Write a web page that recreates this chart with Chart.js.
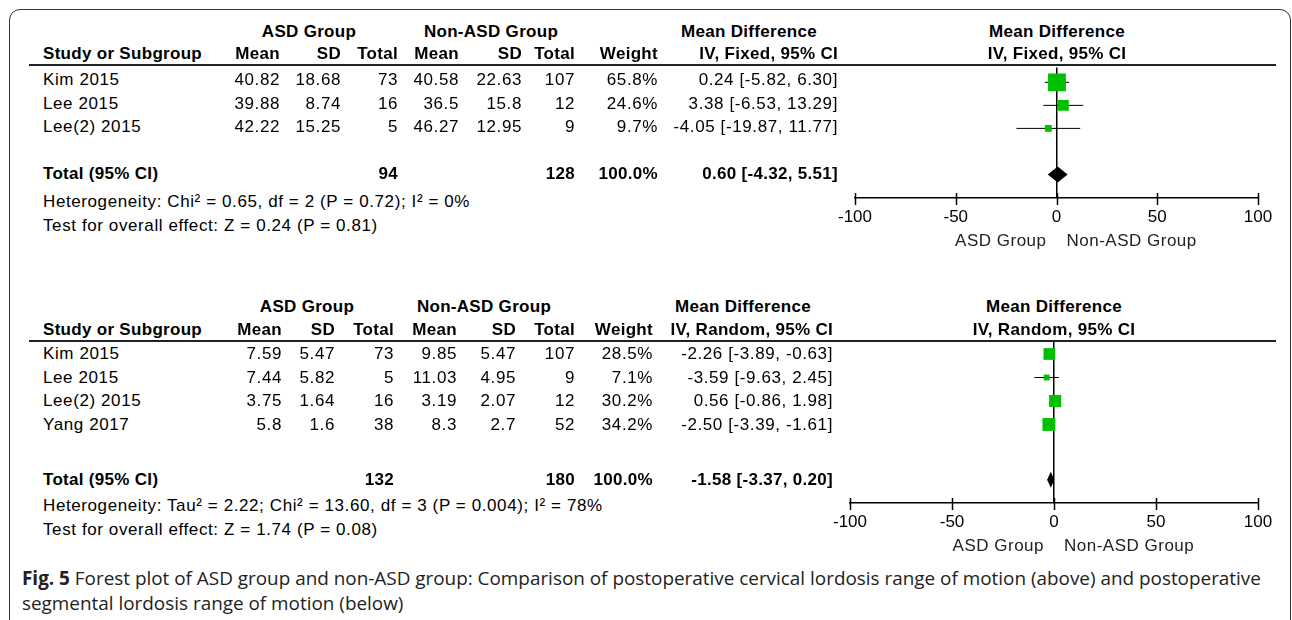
<!DOCTYPE html>
<html>
<head>
<meta charset="utf-8">
<script src="https://cdn.jsdelivr.net/npm/chart.js@4"></script>
<style>
  body { margin: 0; width: 1292px; height: 620px; overflow: hidden; background: #fff;
         font-family: "Liberation Sans", Arial, sans-serif; color: #000; position: relative; }
  .t { position: absolute; white-space: nowrap; font-size: 17px; line-height: 20px; height: 20px; letter-spacing: 0.6px; }
  .b { font-weight: bold; letter-spacing: 0.3px; }
  .frame { position: absolute; left: 9px; top: 9px; width: 1280px; height: 700px;
           border: 1.5px solid #333; border-radius: 11px; }
  .rule { position: absolute; height: 2px; background: #222; }
  canvas { position: absolute; }
  .cap { position: absolute; left: 22px; font-family: "Open Sans", sans-serif; font-size: 18.9px;
         line-height: 24px; white-space: nowrap; color: #222; }
</style>
</head>
<body>
<div class="frame"></div>
<canvas id="plot1" width="470" height="200" style="left:820px;top:55px"></canvas>
<canvas id="plot2" width="475" height="230" style="left:815px;top:331px"></canvas>
<div class="cap" style="top:566px"><b>Fig. 5</b> Forest plot of ASD group and non-ASD group: Comparison of postoperative cervical lordosis range of motion (above) and postoperative</div>
<div class="cap" style="top:591px">segmental lordosis range of motion (below)</div>

<script>
// upper plot: postoperative cervical lordosis ROM
const studies1 = ['Kim 2015', 'Lee 2015', 'Lee(2) 2015'];
const asdMean1 = [40.82, 39.88, 42.22];
const asdSD1 = [18.68, 8.74, 15.25];
const asdN1 = [73, 16, 5];
const nonMean1 = [40.58, 36.5, 46.27];
const nonSD1 = [22.63, 15.8, 12.95];
const nonN1 = [107, 12, 9];
const weight1 = [65.8, 24.6, 9.7];
const md1 = [0.24, 3.38, -4.05];
const lo1 = [-5.82, -6.53, -19.87];
const hi1 = [6.30, 13.29, 11.77];
const total1 = { asdN: 94, nonN: 128, weight: 100.0, md: 0.60, lo: -4.32, hi: 5.51 };
const het1 = 'Heterogeneity: Chi\u00b2 = 0.65, df = 2 (P = 0.72); I\u00b2 = 0%';
const test1 = 'Test for overall effect: Z = 0.24 (P = 0.81)';

// lower plot: postoperative segmental lordosis ROM
const studies2 = ['Kim 2015', 'Lee 2015', 'Lee(2) 2015', 'Yang 2017'];
const asdMean2 = [7.59, 7.44, 3.75, 5.8];
const asdSD2 = [5.47, 5.82, 1.64, 1.6];
const asdN2 = [73, 5, 16, 38];
const nonMean2 = [9.85, 11.03, 3.19, 8.3];
const nonSD2 = [5.47, 4.95, 2.07, 2.7];
const nonN2 = [107, 9, 12, 52];
const weight2 = [28.5, 7.1, 30.2, 34.2];
const md2 = [-2.26, -3.59, 0.56, -2.50];
const lo2 = [-3.89, -9.63, -0.86, -3.39];
const hi2 = [-0.63, 2.45, 1.98, -1.61];
const total2 = { asdN: 132, nonN: 180, weight: 100.0, md: -1.58, lo: -3.37, hi: 0.20 };
const het2 = 'Heterogeneity: Tau\u00b2 = 2.22; Chi\u00b2 = 13.60, df = 3 (P = 0.004); I\u00b2 = 78%';
const test2 = 'Test for overall effect: Z = 1.74 (P = 0.08)';

const xTicks = [-100, -50, 0, 50, 100];
const axisLeft = 'ASD Group';
const axisRight = 'Non-ASD Group';

function txt(x, y, s, align, bold) {
  const d = document.createElement('div');
  d.className = 't' + (bold ? ' b' : '');
  d.textContent = s;
  if (align === 'right') {
    d.style.left = (x - 400) + 'px'; d.style.width = '400px'; d.style.textAlign = 'right';
  } else if (align === 'center') {
    d.style.left = (x - 200) + 'px'; d.style.width = '400px'; d.style.textAlign = 'center';
  } else {
    d.style.left = x + 'px';
  }
  d.style.top = (y - 10) + 'px';
  document.body.appendChild(d);
}

const ci = (m, l, h) => `${m.toFixed(2)} [${l.toFixed(2)}, ${h.toFixed(2)}]`;

function table(p) {
  const c = p.cols;
  txt(p.grpX[0], p.h1, 'ASD Group', 'center', true);
  txt(p.grpX[1], p.h1, 'Non-ASD Group', 'center', true);
  txt(p.mdX, p.h1, 'Mean Difference', 'center', true);
  txt(p.zeroX, p.h1, 'Mean Difference', 'center', true);
  txt(43, p.h2, 'Study or Subgroup', 'left', true);
  ['Mean', 'SD', 'Total', 'Mean', 'SD', 'Total', 'Weight', p.method].forEach((h, i) => txt(c[i], p.h2, h, 'right', true));
  txt(p.zeroX, p.h2, p.method, 'center', true);

  const rule = document.createElement('div');
  rule.className = 'rule';
  rule.style.left = '29px'; rule.style.width = '1247px'; rule.style.top = (p.areaTop - 1) + 'px';
  document.body.appendChild(rule);

  p.studies.forEach((s, i) => {
    const y = p.row0 + i * p.pitch;
    txt(43, y, s, 'left');
    [p.asdMean[i], p.asdSD[i], p.asdN[i], p.nonMean[i], p.nonSD[i], p.nonN[i]]
      .forEach((v, k) => txt(c[k], y, String(v), 'right'));
    txt(c[6], y, p.weight[i].toFixed(1) + '%', 'right');
    txt(c[7], y, ci(p.md[i], p.lo[i], p.hi[i]), 'right');
  });
  const ty = p.row0 + p.totalRow * p.pitch;
  txt(43, ty, 'Total (95% CI)', 'left', true);
  txt(c[2], ty, String(p.total.asdN), 'right', true);
  txt(c[5], ty, String(p.total.nonN), 'right', true);
  txt(c[6], ty, p.total.weight.toFixed(1) + '%', 'right', true);
  txt(c[7], ty, ci(p.total.md, p.total.lo, p.total.hi), 'right', true);
  txt(43, p.hetY, p.het, 'left');
  txt(43, p.hetY + 24, p.test, 'left');
}

const forestPlugin = {
  id: 'forest',
  afterDatasetsDraw(chart, args, o) {
    const { x, y } = chart.scales;
    const ctx = chart.ctx;
    const cy = y.getPixelForValue(o.row);
    ctx.save();
    ctx.beginPath();
    ctx.moveTo(x.getPixelForValue(o.lo), cy);
    ctx.lineTo(x.getPixelForValue(o.md), cy - 8);
    ctx.lineTo(x.getPixelForValue(o.hi), cy);
    ctx.lineTo(x.getPixelForValue(o.md), cy + 8);
    ctx.closePath();
    ctx.fillStyle = '#000';
    ctx.fill();
    ctx.restore();
  },
  afterDraw(chart) {
    const x = chart.scales.x;
    const ctx = chart.ctx;
    const ay = chart.chartArea.bottom;
    ctx.save();
    ctx.strokeStyle = '#000';
    ctx.lineWidth = 1.5;
    x.ticks.forEach(t => {
      const px = Math.round(x.getPixelForValue(t.value)) + 0.5;
      ctx.beginPath(); ctx.moveTo(px, ay - 5); ctx.lineTo(px, ay + 7); ctx.stroke();
    });
    const x0 = x.getPixelForValue(0);
    ctx.font = '17px "Liberation Sans", Arial, sans-serif';
    ctx.letterSpacing = '0.5px';
    ctx.fillStyle = '#222';
    ctx.textBaseline = 'middle';
    ctx.textAlign = 'right';
    ctx.fillText(axisLeft, x0 - 10, ay + 43);
    ctx.textAlign = 'left';
    ctx.fillText(axisRight, x0 + 10, ay + 43);
    ctx.restore();
  }
};

function forest(id, p, canvasTop, canvasH, padL, padR) {
  const ymin = (p.areaTop - p.row0) / p.pitch;
  const ymax = (p.axisY - p.row0) / p.pitch;
  const datasets = [{
    data: p.md.map((m, i) => ({ x: m, y: i })),
    pointStyle: 'rect',
    pointRadius: p.weight.map(w => 2.2 * Math.sqrt(w) / Math.SQRT2),
    backgroundColor: '#00c000',
    borderWidth: 0,
    order: 0
  }];
  p.lo.forEach((l, i) => datasets.push({
    data: [{ x: l, y: i }, { x: p.hi[i], y: i }],
    showLine: true, borderColor: '#000', borderWidth: 1, pointRadius: 0, order: 1
  }));
  new Chart(document.getElementById(id), {
    type: 'scatter',
    data: { datasets },
    plugins: [forestPlugin],
    options: {
      responsive: false,
      animation: false,
      devicePixelRatio: 1,
      layout: { padding: { top: p.areaTop - canvasTop, left: padL, right: padR, bottom: 0 } },
      plugins: {
        legend: { display: false },
        tooltip: { enabled: false },
        forest: { row: p.totalRow, md: p.total.md, lo: p.total.lo, hi: p.total.hi }
      },
      scales: {
        x: {
          type: 'linear', min: -100, max: 100,
          afterBuildTicks: s => { s.ticks = xTicks.map(v => ({ value: v })); },
          afterFit: s => { s.height = canvasH - (p.axisY - canvasTop); },
          border: { display: true, color: '#000', width: 1.5 },
          grid: {
            drawTicks: false,
            color: c => (c.tick && c.tick.value === 0 ? '#000' : 'rgba(0,0,0,0)'),
            lineWidth: 1.5
          },
          ticks: { padding: 9, color: '#000', font: { family: '"Liberation Sans", Arial, sans-serif', size: 17 } }
        },
        y: { type: 'linear', reverse: true, min: ymin, max: ymax, display: false }
      }
    }
  });
}

const p1 = {
  studies: studies1, asdMean: asdMean1, asdSD: asdSD1, asdN: asdN1, nonMean: nonMean1, nonSD: nonSD1,
  nonN: nonN1, weight: weight1, md: md1, lo: lo1, hi: hi1, total: total1, het: het1, test: test1,
  method: 'IV, Fixed, 95% CI',
  cols: [280, 341, 398, 459, 522, 575, 658, 838], grpX: [309, 491], mdX: 749, zeroX: 1057,
  h1: 32, h2: 54, areaTop: 65, row0: 80, pitch: 23.5, totalRow: 4, hetY: 202, axisY: 198
};
const p2 = {
  studies: studies2, asdMean: asdMean2, asdSD: asdSD2, asdN: asdN2, nonMean: nonMean2, nonSD: nonSD2,
  nonN: nonN2, weight: weight2, md: md2, lo: lo2, hi: hi2, total: total2, het: het2, test: test2,
  method: 'IV, Random, 95% CI',
  cols: [282, 335, 394, 457, 516, 575, 653, 833], grpX: [307, 484], mdX: 743, zeroX: 1054,
  h1: 307, h2: 330, areaTop: 341, row0: 354, pitch: 23.5, totalRow: 5.35, hetY: 506, axisY: 503
};

table(p1);
table(p2);
forest('plot1', p1, 55, 200, 35, 32);
forest('plot2', p2, 331, 230, 35, 32);
</script>
</body>
</html>
